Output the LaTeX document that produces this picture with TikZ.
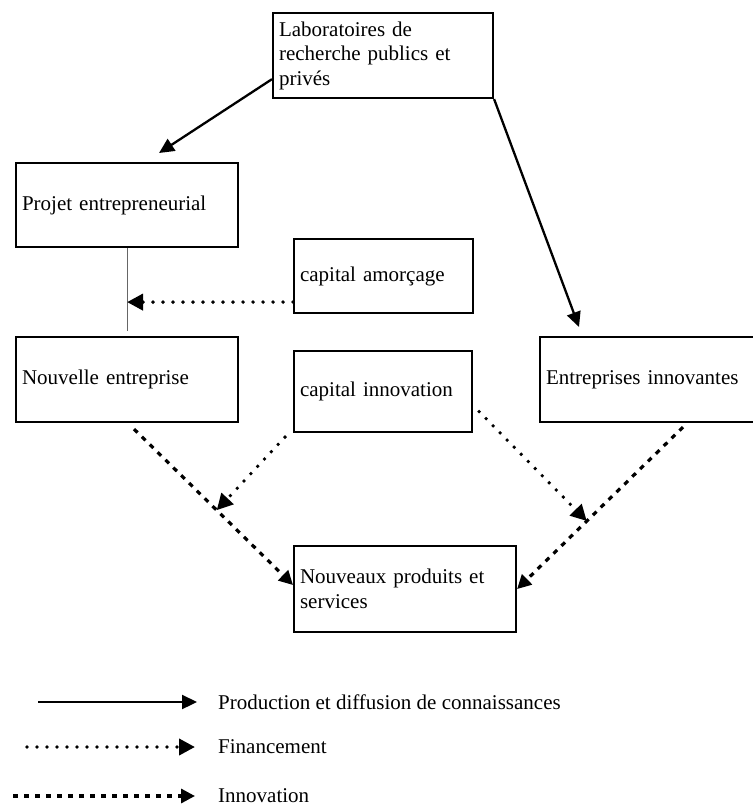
\documentclass[tikz,border=0pt]{standalone}
\usepackage{fontspec}
\setmainfont{Liberation Serif}
\usetikzlibrary{arrows.meta,calc}

\begin{document}
\begin{tikzpicture}[x=1pt, y=-1pt, font=\fontsize{21}{24.5}\selectfont]
\tikzset{
  savoir/.style={line width=2.3pt, -{Triangle[length=15pt,width=14pt]}},
  finance/.style={line width=3.8pt, line cap=round, dash pattern=on 0pt off 10pt, -{Triangle[length=16pt,width=16pt]}},
  innov/.style={line width=3.2pt, dash pattern=on 5pt off 6pt, -{Triangle[length=14pt,width=14pt]}},
  legende/.style={anchor=west, inner xsep=0pt}
}
\useasboundingbox (0,0) rectangle (752,808);

   \begin{scope}[every node/.style={draw, line width=2.1pt, anchor=north west, align=left, inner xsep=6pt, inner ysep=0pt}]
    \node[text width=208pt, minimum height=85pt] (labo) at (272,12) {Laboratoires de\\recherche publics et\\privés};
    \node[text width=210pt, minimum height=84pt] (projet) at (15,162) {Projet entrepreneurial};
    \node[text width=167pt, minimum height=74pt] (amorcage) at (293,238) {capital amorçage};
    \node[text width=210pt, minimum height=85pt] (nouvelle) at (15,336) {Nouvelle entreprise};
    \node[text width=166pt, minimum height=81pt] (innovation) at (293,350) {capital innovation};
    \node[text width=210pt, minimum height=85pt] (entreprises) at (539,336) {Entreprises innovantes};
    \node[text width=210pt, minimum height=86pt] (nouveaux) at (293,545) {Nouveaux produits et\\services};
   \end{scope}

\coordinate (liaison) at ($(projet.south)+(0,83)$);
\coordinate (depart) at ($(amorcage.south west)+(0,-12)$);
\coordinate (n1) at ($(nouvelle.south)+(7,6)$);
\coordinate (n2) at ($(nouveaux.north west)+(0,40)$);
\coordinate (e1) at ($(entreprises.south)+(32,4)$);
\coordinate (c1) at ($(n1)!0.52!(n2)$);
\coordinate (c2) at ($(e1)!0.58!(nouveaux.east)$);

\draw[savoir] (labo.192) -- ($(projet.north)+(32,-9)$);
\draw[savoir] (labo.south east) -- ($(entreprises.north west)+(40,-9)$);
\draw[line width=0.8pt, black!60] (projet.south) -- (liaison);
\draw[finance] (depart) -- (projet.south |- depart);
\draw[innov] (n1) -- (n2);
\draw[innov] (e1) -- (nouveaux.east);
\draw[finance] ($(innovation.south west)+(-8,4)$) -- (c1);
\draw[finance] ($(innovation.east)+(6,20)$) -- (c2);

% legende
\node[legende] (leg1) at (218,702) {Production et diffusion de connaissances};
\node[legende] (leg2) at (218,747) {Financement};
\node[legende] (leg3) at (218,796) {Innovation};
\coordinate (a1) at (38,702);
\coordinate (a2) at (27,747);
\coordinate (a3) at (13,796);
\draw[savoir] (a1) -- (a1 -| 197,0);
\draw[finance] (a2) -- (a2 -| 195,0);
\draw[innov] (a3) -- (a3 -| 195,0);
\end{tikzpicture}
\end{document}
